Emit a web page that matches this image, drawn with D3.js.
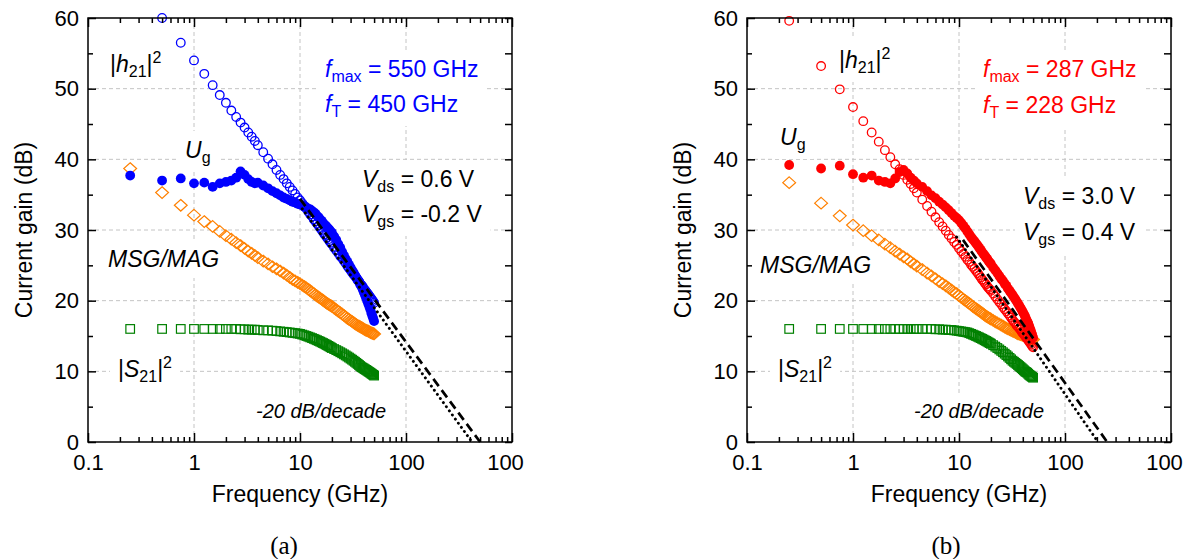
<!DOCTYPE html>
<meta charset="utf-8">
<style>
body { margin: 0; background: #fff; }
svg { display: block; font-family: "Liberation Sans", Arial, sans-serif; }
.grid line { stroke: #c4c4c4; stroke-width: 1; stroke-dasharray: 4,3; }
.axis path { display: none; }
.axis line { stroke: #000; stroke-width: 1.5; }
.lbl { font-size: 23px; white-space: pre; }
</style>
<svg width="1190" height="559"></svg>
<script src="https://d3js.org/d3.v7.min.js"></script>
<script>
// frequency points (GHz), shared by all series
var freq = [0.25,0.5,0.75,1,1.25,1.5,1.75,2,2.25,2.5,2.75,3,3.25,3.5,3.75,4,
  4.5,5,5.5,6,6.5,7,7.5,8,8.5,9,9.5,10,
  10.5,11,11.5,12,12.5,13,13.5,14,14.5,15,15.5,16,16.5,17,17.5,18,18.5,19,19.5,20,
  21,22,23,24,25,26,27,28,29,30,31,32,33,34,35,36,37,38,39,40,
  41,42,43,44,45,46,47,48,49,50];

// panel (a)  Vds = 0.6 V, Vgs = -0.2 V
var h21A = [null,60.0,56.5,54.0,52.1,50.5,49.1,48.0,46.9,46.0,45.2,44.5,43.8,43.2,42.6,42.0,
  41.0,40.1,39.3,38.5,37.8,37.2,36.6,36.1,35.6,35.1,34.6,34.2,
  33.8,33.4,33.0,32.6,32.2,31.9,31.5,31.2,30.9,30.6,30.3,30.0,29.7,29.4,29.2,28.9,28.7,28.4,28.2,28.0,
  27.5,27.1,26.7,26.3,26.0,25.6,25.3,24.9,24.6,24.3,24.0,23.7,23.5,23.2,22.9,22.7,22.4,22.2,22.0,21.7,
  21.5,21.3,21.1,20.9,20.7,20.5,20.3,20.1,19.9,19.7];
var ugA = [37.7,37.0,37.3,36.6,36.7,36.1,36.6,36.8,37.0,37.4,38.3,37.8,37.2,36.8,36.6,36.7,
  36.3,35.9,35.5,35.2,34.9,34.6,34.4,34.2,34.0,33.9,33.7,33.6,
  33.5,33.3,33.2,33.0,32.9,32.7,32.5,32.3,32.0,31.8,31.5,31.3,31.0,30.8,30.6,30.4,30.2,30.0,29.8,29.6,
  29.1,28.6,28.0,27.5,26.9,26.4,25.9,25.5,25.1,24.7,24.3,24.0,23.6,23.3,23.0,22.7,22.3,22.0,21.6,21.2,
  20.8,20.4,20.0,19.6,19.2,18.8,18.3,17.9,17.5,17.1];
var msgA = [38.7,35.3,33.5,32.1,31.2,30.5,29.8,29.2,28.7,28.2,27.8,27.4,27.0,26.7,26.4,26.1,
  25.6,25.2,24.8,24.5,24.2,23.9,23.6,23.3,23.0,22.8,22.6,22.4,
  22.2,22.0,21.8,21.6,21.4,21.2,21.0,20.8,20.65,20.5,20.35,20.2,20.05,19.9,19.75,19.6,19.5,19.4,19.3,19.2,
  18.95,18.7,18.5,18.3,18.1,17.9,17.7,17.5,17.35,17.2,17.05,16.9,16.75,16.6,16.5,16.4,16.3,16.2,16.1,16.0,
  15.9,15.8,15.75,15.7,15.6,15.5,15.45,15.4,15.35,15.3];
var s21A = [16.0,16.0,16.0,16.0,16.0,16.0,16.0,16.0,16.0,16.0,15.95,15.95,15.9,15.9,15.9,15.85,
  15.8,15.8,15.75,15.7,15.65,15.6,15.55,15.5,15.45,15.4,15.35,15.3,
  15.2,15.1,15.0,14.9,14.8,14.7,14.6,14.5,14.4,14.3,14.2,14.1,14.0,13.9,13.8,13.7,13.6,13.5,13.4,13.3,
  13.15,13.0,12.85,12.7,12.55,12.4,12.25,12.1,11.95,11.8,11.65,11.5,11.35,11.2,11.05,10.9,10.75,10.6,10.5,10.4,
  10.3,10.2,10.1,10.0,9.9,9.8,9.7,9.6,9.5,9.4];
var fitTA = [[10.5,33.0],[420,0]];     // dotted, h21 extrapolation
var fitMaxA = [[10,34.4],[500,0]];     // dashed, Ug extrapolation

// panel (b)  Vds = 3.0 V, Vgs = 0.4 V
var h21B = [59.6,53.2,49.9,47.4,45.4,43.8,42.5,41.3,40.3,39.3,38.6,37.8,37.1,36.5,35.9,35.3,
  34.3,33.4,32.6,31.8,31.1,30.5,29.9,29.3,28.8,28.3,27.9,27.4,
  27.0,26.6,26.2,25.8,25.5,25.1,24.8,24.5,24.2,23.9,23.6,23.3,23.0,22.8,22.5,22.3,22.0,21.8,21.6,21.4,
  21.0,20.6,20.2,19.8,19.5,19.1,18.8,18.5,18.2,17.9,17.6,17.3,17.0,16.8,16.5,16.3,16.1,15.9,15.6,15.4,
  15.2,15.0,14.8,14.6,14.4,14.2,14.0,13.8,13.6,13.4];
var ugB = [39.2,38.7,39.1,37.9,37.4,37.7,37.0,36.8,36.6,37.3,38.2,38.5,38.0,37.4,37.0,36.6,
  36.1,35.5,34.9,34.5,34.0,33.6,33.2,32.8,32.4,32.0,31.7,31.4,
  31.0,30.6,30.2,29.8,29.4,29.0,28.7,28.4,28.1,27.8,27.5,27.2,26.9,26.6,26.4,26.1,25.9,25.6,25.4,25.2,
  24.7,24.3,23.9,23.5,23.1,22.8,22.4,22.1,21.7,21.4,21.1,20.8,20.5,20.2,19.9,19.6,19.3,19.0,18.7,18.4,
  18.1,17.8,17.4,17.1,16.8,16.4,16.0,15.6,15.2,14.8];
var msgB = [36.7,33.8,32.0,30.7,29.9,29.2,28.6,28.0,27.5,27.0,26.6,26.2,25.9,25.5,25.2,24.9,
  24.4,23.9,23.5,23.1,22.7,22.4,22.1,21.8,21.5,21.2,21.0,20.7,
  20.45,20.2,20.0,19.8,19.6,19.4,19.2,19.0,18.85,18.7,18.55,18.4,18.25,18.1,17.95,17.8,17.7,17.6,17.5,17.4,
  17.2,17.0,16.85,16.7,16.55,16.4,16.25,16.1,16.0,15.9,15.8,15.7,15.6,15.5,15.4,15.3,15.25,15.2,15.15,15.1,
  15.05,15.0,14.95,14.9,14.85,14.8,14.7,14.6,14.55,14.5];
var s21B = [16.0,16.0,16.0,16.0,16.0,16.0,16.0,16.0,16.0,16.0,16.0,16.0,16.0,16.0,16.0,16.0,
  16.0,16.0,16.0,15.95,15.95,15.9,15.9,15.85,15.85,15.8,15.75,15.7,
  15.65,15.6,15.55,15.5,15.4,15.3,15.2,15.1,15.0,14.9,14.8,14.7,14.6,14.5,14.4,14.3,14.2,14.1,14.0,13.9,
  13.7,13.5,13.3,13.1,12.9,12.7,12.5,12.3,12.1,11.9,11.7,11.5,11.35,11.2,11.05,10.9,10.75,10.6,10.45,10.3,
  10.15,10.0,9.9,9.8,9.65,9.5,9.4,9.3,9.2,9.1];
var fitTB = [[9.5,29.0],[205,0]];
var fitMaxB = [[10.9,28.6],[250,0]];

// axes
var xTicks = [0.1,1,10,100,1000];
var xTickLabels = ["0.1","1","10","100","100"];
var yTicks = [0,10,20,30,40,50,60];
var yMinor = [5,15,25,35,45,55];
var xGrid = [1,10,100];
var yGrid = [10,20,30,40,50];

// annotation texts
var textsA = ["550 GHz","450 GHz","0.6 V","-0.2 V"];
var textsB = ["287 GHz","228 GHz","3.0 V","0.4 V"];

var svg = d3.select("svg");
var plotTop = 18, plotW = 424, plotH = 424;

function runs(name, v) {
  if (name === "h21") return [["|"],["h","i"],["21","sub"],["|"],["2","sup"]];
  if (name === "s21") return [["|"],["S","i"],["21","sub"],["|"],["2","sup"]];
  if (name === "ug") return [["U","i"],["g","sub"]];
  if (name === "fmax") return [["f","i"],["max","sub"],[" = " + v]];
  if (name === "ft") return [["f","i"],["T","sub"],[" = " + v]];
  if (name === "vds") return [["V","i"],["ds","sub"],[" = " + v]];
  if (name === "vgs") return [["V","i"],["gs","sub"],[" = " + v]];
  if (name === "msg") return [["MSG/MAG","i"]];
  return [["-20 dB/decade","i"]];
}

var panels = [
  {id: "a", left: 88, color: "#0000ff", h21: h21A, ug: ugA, msg: msgA, s21: s21A,
   fitT: fitTA, fitMax: fitMaxA, cap: "(a)", capX: 284,
   labels: [
     {n: "h21", x: 110, y: 72}, {n: "ug", x: 185, y: 158},
     {n: "fmax", x: 325, y: 77, v: textsA[0], c: 1}, {n: "ft", x: 325, y: 112, v: textsA[1], c: 1},
     {n: "vds", x: 362, y: 187, v: textsA[2]}, {n: "vgs", x: 362, y: 222, v: textsA[3]},
     {n: "msg", x: 108, y: 267}, {n: "s21", x: 118, y: 377}, {n: "slope", x: 256, y: 418}]},
  {id: "b", left: 747, color: "#ff0000", h21: h21B, ug: ugB, msg: msgB, s21: s21B,
   fitT: fitTB, fitMax: fitMaxB, cap: "(b)", capX: 946,
   labels: [
     {n: "h21", x: 839, y: 68}, {n: "ug", x: 780, y: 145},
     {n: "fmax", x: 983, y: 77, v: textsB[0], c: 1}, {n: "ft", x: 983, y: 113, v: textsB[1], c: 1},
     {n: "vds", x: 1023, y: 204, v: textsB[2]}, {n: "vgs", x: 1023, y: 240, v: textsB[3]},
     {n: "msg", x: 760, y: 273}, {n: "s21", x: 778, y: 377}, {n: "slope", x: 914, y: 418}]}
];

panels.forEach(function(p) {
  var x = d3.scaleLog().domain([0.1, 1000]).range([p.left, p.left + plotW]);
  var y = d3.scaleLinear().domain([0, 60]).range([plotTop + plotH, plotTop]);
  var bottom = plotTop + plotH, right = p.left + plotW;

  var gGrid = svg.append("g").attr("class", "grid");
  var gBox = svg.append("g");
  var gData = svg.append("g");
  var gFit = svg.append("g");
  var gAxis = svg.append("g");
  var gText = svg.append("g");

  gGrid.selectAll(".v").data(xGrid).join("line")
    .attr("x1", d => x(d)).attr("x2", d => x(d)).attr("y1", plotTop).attr("y2", bottom);
  gGrid.selectAll(".h").data(yGrid).join("line")
    .attr("x1", p.left).attr("x2", right).attr("y1", d => y(d)).attr("y2", d => y(d));

  function pts(arr) {
    return freq.map((f, i) => [f, arr[i]]).filter(d => d[1] != null);
  }

  // |S21|^2 open squares
  gData.append("g").selectAll("rect").data(pts(p.s21)).join("rect")
    .attr("x", d => x(d[0]) - 4.3).attr("y", d => y(d[1]) - 4.3)
    .attr("width", 8.6).attr("height", 8.6)
    .attr("fill", "none").attr("stroke", "#008000").attr("stroke-width", 1.2);
  // MSG/MAG open diamonds
  gData.append("g").selectAll("path").data(pts(p.msg)).join("path")
    .attr("d", "M0,-5.8L6.4,0L0,5.8L-6.4,0Z")
    .attr("transform", d => "translate(" + x(d[0]) + "," + y(d[1]) + ")")
    .attr("fill", "none").attr("stroke", "#ff8000").attr("stroke-width", 1.2);
  // |h21|^2 open circles
  gData.append("g").selectAll("circle").data(pts(p.h21)).join("circle")
    .attr("cx", d => x(d[0])).attr("cy", d => y(d[1])).attr("r", 4.3)
    .attr("fill", "none").attr("stroke", p.color).attr("stroke-width", 1.3);
  // Ug filled circles
  gData.append("g").selectAll("circle").data(pts(p.ug)).join("circle")
    .attr("cx", d => x(d[0])).attr("cy", d => y(d[1])).attr("r", 4.9)
    .attr("fill", p.color);

  var line = d3.line().x(d => x(d[0])).y(d => y(d[1]));
  gFit.append("path").attr("d", line(p.fitT)).attr("fill", "none")
    .attr("stroke", "#000").attr("stroke-width", 2.9)
    .attr("stroke-linecap", "round").attr("stroke-dasharray", "0.1,5");
  gFit.append("path").attr("d", line(p.fitMax)).attr("fill", "none")
    .attr("stroke", "#000").attr("stroke-width", 2.7).attr("stroke-dasharray", "9,5");

  // axes
  var minor = [];
  [0.1, 1, 10, 100].forEach(function(dec) {
    for (var k = 2; k <= 9; k++) minor.push(dec * k);
  });

  var gx = gAxis.append("g").attr("class", "axis").attr("transform", "translate(0," + bottom + ")")
    .call(d3.axisBottom(x).tickValues(xTicks).tickFormat((d, i) => xTickLabels[i])
      .tickSizeInner(-9).tickSizeOuter(0).tickPadding(12));
  // last label sits a little left of its tick, as in the figure
  gx.selectAll(".tick text").filter((d, i) => i === xTicks.length - 1).attr("dx", -7);
  gAxis.append("g").attr("class", "axis").attr("transform", "translate(0," + bottom + ")")
    .call(d3.axisBottom(x).tickValues(minor).tickFormat("").tickSizeInner(-5).tickSizeOuter(0));
  gAxis.append("g").attr("class", "axis").attr("transform", "translate(0," + plotTop + ")")
    .call(d3.axisTop(x).tickValues(xTicks).tickFormat("").tickSizeInner(-9).tickSizeOuter(0));
  gAxis.append("g").attr("class", "axis").attr("transform", "translate(0," + plotTop + ")")
    .call(d3.axisTop(x).tickValues(minor).tickFormat("").tickSizeInner(-5).tickSizeOuter(0));
  var gy = gAxis.append("g").attr("class", "axis").attr("transform", "translate(" + p.left + ",0)")
    .call(d3.axisLeft(y).tickValues(yTicks).tickSizeInner(-8).tickSizeOuter(0).tickPadding(9));
  gAxis.append("g").attr("class", "axis").attr("transform", "translate(" + p.left + ",0)")
    .call(d3.axisLeft(y).tickValues(yMinor).tickFormat("").tickSizeInner(-5).tickSizeOuter(0));
  gAxis.append("g").attr("class", "axis").attr("transform", "translate(" + right + ",0)")
    .call(d3.axisRight(y).tickValues(yTicks.concat(yMinor)).tickFormat("").tickSizeInner(-7).tickSizeOuter(0));
  [gx, gy].forEach(function(g) {
    g.attr("font-size", 22).attr("font-family", "'Liberation Sans', Arial, sans-serif");
  });

  gAxis.append("rect").attr("x", p.left).attr("y", plotTop)
    .attr("width", plotW).attr("height", plotH)
    .attr("fill", "none").attr("stroke", "#000").attr("stroke-width", 1.5);

  // axis titles
  svg.append("text").attr("class", "lbl")
    .attr("transform", "translate(" + (p.left - 56) + "," + (plotTop + plotH / 2) + ") rotate(-90)")
    .attr("text-anchor", "middle").text("Current gain (dB)");
  svg.append("text").attr("class", "lbl")
    .attr("x", p.left + plotW / 2).attr("y", 502)
    .attr("text-anchor", "middle").text("Frequency (GHz)");
  svg.append("text").attr("x", p.capX).attr("y", 554)
    .attr("text-anchor", "middle").style("font-family", "'Liberation Serif', serif")
    .style("font-size", "25px").text(p.cap);

  // annotations with white boxes behind them
  p.labels.forEach(function(l) {
    var t = gText.append("text").attr("class", "lbl").attr("x", l.x).attr("y", l.y)
      .attr("fill", l.c ? p.color : "#000");
    if (l.n === "slope") t.style("font-size", "20px");
    var shift = 0;
    runs(l.n, l.v).forEach(function(r) {
      var want = r[1] === "sub" ? 5 : r[1] === "sup" ? -9 : 0;
      var ts = t.append("tspan").attr("dy", want - shift).text(r[0]);
      shift = want;
      if (r[1] === "i") ts.style("font-style", "italic");
      if (r[1] === "sub" || r[1] === "sup") ts.style("font-size", "16px");
    });
    var b = t.node().getBBox();
    gBox.append("rect").attr("x", b.x - 8).attr("y", b.y - 6)
      .attr("width", b.width + 16).attr("height", b.height + 12).attr("fill", "#fff");
  });
});
</script>
</html>
